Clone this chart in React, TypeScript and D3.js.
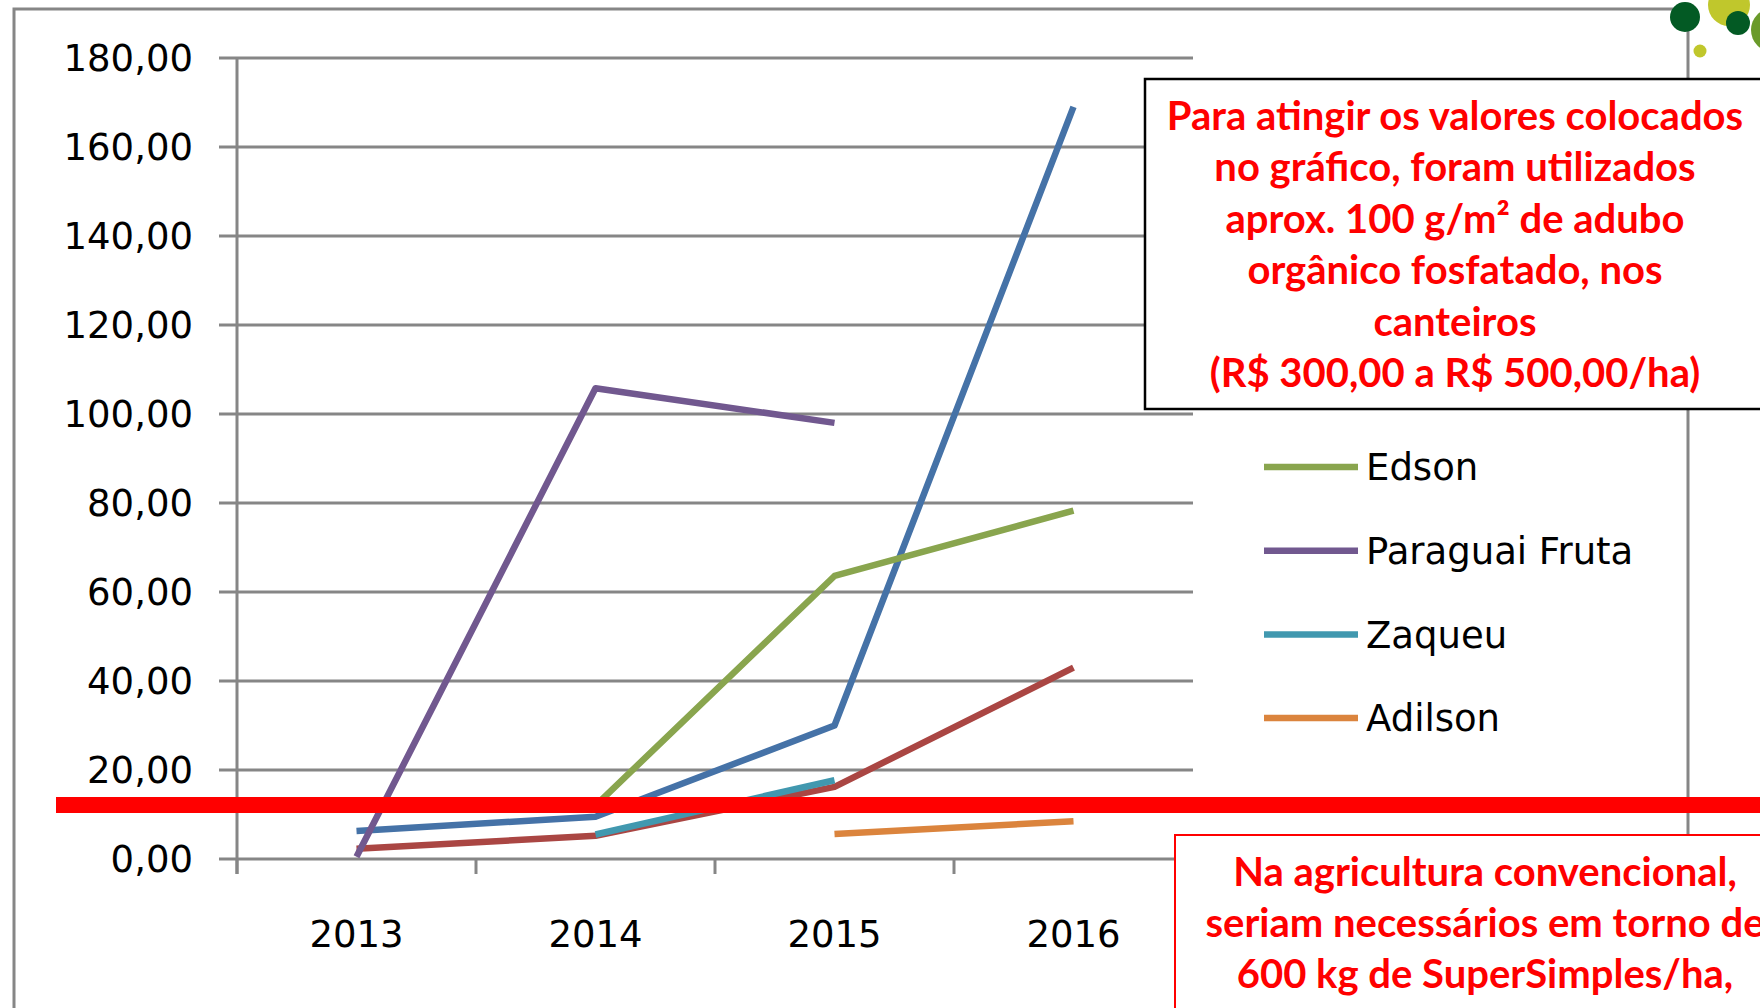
import * as d3 from 'd3';
import React, { useRef, useEffect } from 'react';

const categories = ['2013', '2014', '2015', '2016'];
const yTicks = [0, 20, 40, 60, 80, 100, 120, 140, 160, 180];

// two series whose legend entries are hidden under the note box
const serieAzul = [6.3, 9.5, 30, 169];
const serieVermelha = [2.3, 5.2, 16.2, 43];
const edson = [null, 12, 63.6, 78.3];
const paraguaiFruta = [0.5, 105.8, 98, null];
const zaqueu = [null, 5.5, 17.7, null];
const adilson = [null, null, 5.6, 8.5];

const legendNames = ['Edson', 'Paraguai Fruta', 'Zaqueu', 'Adilson'];

const noteTop = [
  'Para atingir os valores colocados',
  'no gráfico, foram utilizados',
  'aprox. 100 g/m² de adubo',
  'orgânico fosfatado, nos',
  'canteiros',
  '(R$ 300,00 a R$ 500,00/ha)',
];
const noteBottom = [
  'Na agricultura convencional,',
  'seriam necessários em torno de',
  '600 kg de SuperSimples/ha,',
];

function App() {
  const ref = useRef(null);

  useEffect(() => {
    document.body.style.margin = '0';
    document.body.style.overflow = 'hidden';

    const svg = d3.select(ref.current);
    svg.selectAll('*').remove();

    const grey = '#868686';
    const axisFont = '"DejaVu Sans", Verdana, sans-serif';
    const noteFont = 'Lato, "Open Sans", sans-serif';

    const x = d3.scaleBand().domain(categories).range([237, 1193]);
    const y = d3.scaleLinear().domain([0, 180]).range([859, 58]);

    // frame of the slide
    svg.append('path')
      .attr('d', 'M14,1008V9H1688')
      .attr('fill', 'none')
      .attr('stroke', grey)
      .attr('stroke-width', 3);
    svg.append('line')
      .attr('x1', 1688).attr('x2', 1688)
      .attr('y1', 9).attr('y2', 1008)
      .attr('stroke', grey)
      .attr('stroke-width', 3);

    // gridlines + y ticks
    svg.append('g')
      .selectAll('line')
      .data(yTicks)
      .enter()
      .append('line')
      .attr('x1', 219)
      .attr('x2', 1193)
      .attr('y1', d => y(d))
      .attr('y2', d => y(d))
      .attr('stroke', grey)
      .attr('stroke-width', 3);

    svg.append('g')
      .selectAll('text')
      .data(yTicks)
      .enter()
      .append('text')
      .attr('x', 193)
      .attr('y', d => y(d))
      .attr('dy', '0.36em')
      .attr('text-anchor', 'end')
      .style('font-family', axisFont)
      .style('font-size', '37px')
      .attr('fill', '#000')
      .text(d => d.toFixed(2).replace('.', ','));

    // y axis line
    svg.append('line')
      .attr('x1', x.range()[0]).attr('x2', x.range()[0])
      .attr('y1', y(180)).attr('y2', y(0) + 15)
      .attr('stroke', grey)
      .attr('stroke-width', 3);

    // x ticks at category borders
    const borders = categories.map(c => x(c) + x.bandwidth()).concat([x.range()[0]]);
    svg.append('g')
      .selectAll('line')
      .data(borders)
      .enter()
      .append('line')
      .attr('x1', d => d).attr('x2', d => d)
      .attr('y1', y(0)).attr('y2', y(0) + 15)
      .attr('stroke', grey)
      .attr('stroke-width', 3);

    svg.append('g')
      .selectAll('text')
      .data(categories)
      .enter()
      .append('text')
      .attr('x', d => x(d) + x.bandwidth() / 2)
      .attr('y', 934)
      .attr('dy', '0.36em')
      .attr('text-anchor', 'middle')
      .style('font-family', axisFont)
      .style('font-size', '37px')
      .attr('fill', '#000')
      .text(d => d);

    // series
    const series = [
      { values: serieAzul, color: '#4572A7' },
      { values: serieVermelha, color: '#AA4643' },
      { values: edson, color: '#89A54E' },
      { values: paraguaiFruta, color: '#71588F' },
      { values: zaqueu, color: '#4198AF' },
      { values: adilson, color: '#DB843D' },
    ];

    const line = d3.line()
      .defined(d => d[1] != null)
      .x(d => x(d[0]) + x.bandwidth() / 2)
      .y(d => y(d[1]));

    svg.append('g')
      .selectAll('path')
      .data(series)
      .enter()
      .append('path')
      .attr('d', s => line(categories.map((c, i) => [c, s.values[i]])))
      .attr('fill', 'none')
      .attr('stroke', s => s.color)
      .attr('stroke-width', 6.5)
      .attr('stroke-linejoin', 'round');

    // legend
    const legend = svg.append('g')
      .selectAll('g')
      .data(legendNames)
      .enter()
      .append('g')
      .attr('transform', (d, i) => `translate(0, ${467 + i * 83.7})`);
    legend.append('line')
      .attr('x1', 1264).attr('x2', 1358)
      .attr('stroke', (d, i) => series[i + 2].color)
      .attr('stroke-width', 6.5);
    legend.append('text')
      .attr('x', 1366)
      .attr('dy', '0.36em')
      .style('font-family', axisFont)
      .style('font-size', '37px')
      .attr('fill', '#000')
      .text(d => d);

    // red marker bar
    svg.append('rect')
      .attr('x', 56).attr('y', 797)
      .attr('width', 1760 - 56).attr('height', 16)
      .attr('fill', '#FF0000');

    // top note
    svg.append('rect')
      .attr('x', 1145).attr('y', 79)
      .attr('width', 660).attr('height', 330)
      .attr('fill', '#fff')
      .attr('stroke', '#000')
      .attr('stroke-width', 2.5);
    svg.append('g')
      .selectAll('text')
      .data(noteTop)
      .enter()
      .append('text')
      .attr('x', 1455)
      .attr('y', (d, i) => 115.6 + i * 51.4)
      .attr('dy', '0.36em')
      .attr('text-anchor', 'middle')
      .style('font-family', noteFont)
      .style('font-weight', 'bold')
      .style('font-size', '40px')
      .attr('fill', '#FF0000')
      .text(d => d);

    // bottom note
    svg.append('rect')
      .attr('x', 1175).attr('y', 835)
      .attr('width', 660).attr('height', 260)
      .attr('fill', '#fff')
      .attr('stroke', '#FF0000')
      .attr('stroke-width', 2);
    svg.append('g')
      .selectAll('text')
      .data(noteBottom)
      .enter()
      .append('text')
      .attr('x', 1485)
      .attr('y', (d, i) => 872 + i * 51)
      .attr('dy', '0.36em')
      .attr('text-anchor', 'middle')
      .style('font-family', noteFont)
      .style('font-weight', 'bold')
      .style('font-size', '40px')
      .attr('fill', '#FF0000')
      .text(d => d);

    // slide decoration, top right
    const dots = [
      { cx: 1729, cy: 5, r: 21, fill: '#C0C72C' },
      { cx: 1773, cy: 30, r: 22, fill: '#6A9A2A' },
      { cx: 1685, cy: 17, r: 15, fill: '#035A24' },
      { cx: 1738, cy: 23, r: 12, fill: '#035A24' },
      { cx: 1700, cy: 51, r: 6.5, fill: '#C0C72C' },
    ];
    svg.append('g')
      .selectAll('circle')
      .data(dots)
      .enter()
      .append('circle')
      .attr('cx', d => d.cx)
      .attr('cy', d => d.cy)
      .attr('r', d => d.r)
      .attr('fill', d => d.fill);
  }, []);

  return (
    <svg
      ref={ref}
      width={1760}
      height={1008}
      style={{ position: 'absolute', left: 0, top: 0, background: '#fff' }}
    />
  );
}

export default App;
